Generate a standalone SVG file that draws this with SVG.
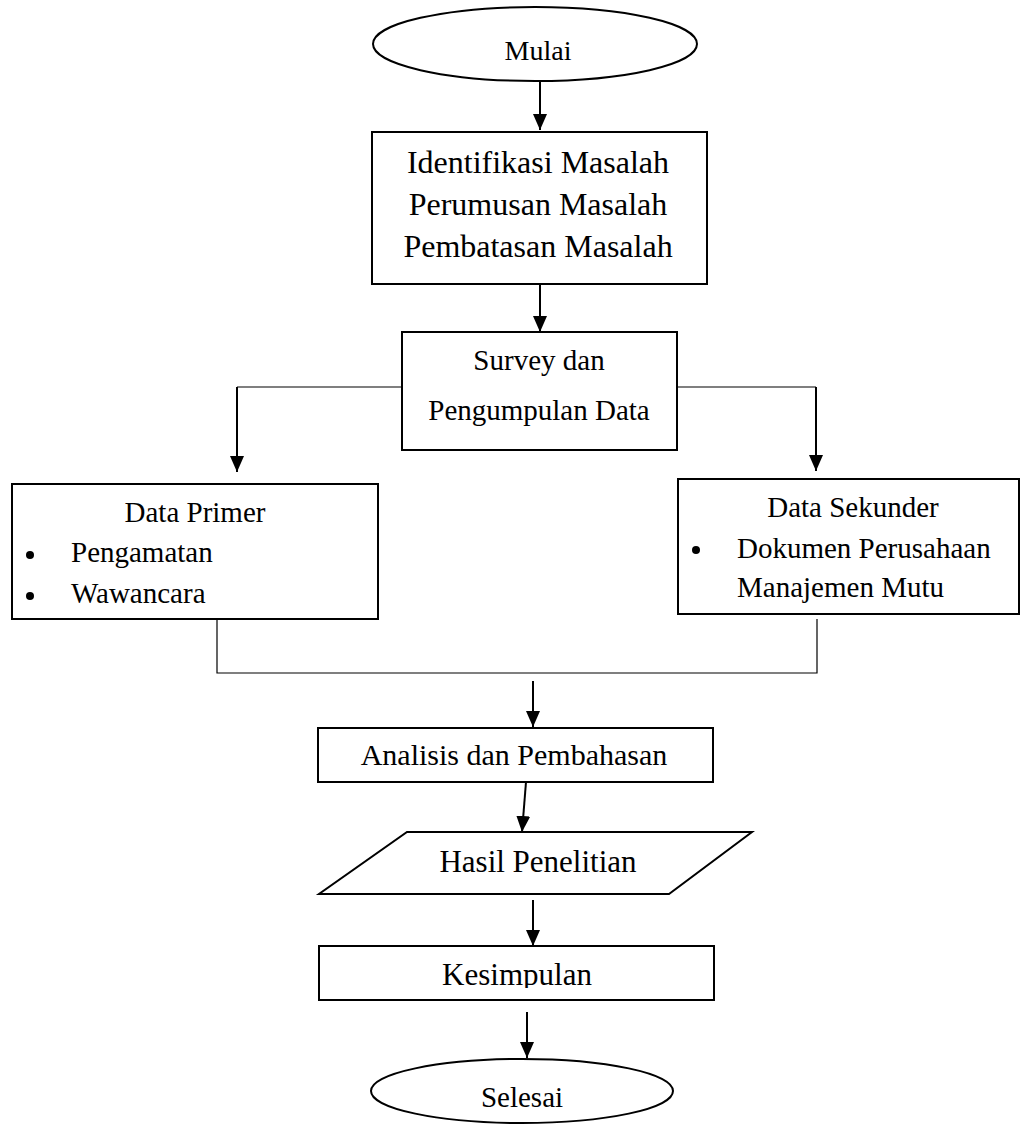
<svg xmlns="http://www.w3.org/2000/svg" width="1021" height="1126" viewBox="0 0 1021 1126">
<style>
.n{fill:#fff;stroke:#000;stroke-width:2}
.t{font-family:"Liberation Serif","Times New Roman",serif;fill:#000}
.c{stroke:#000;stroke-width:2;fill:none}
.thin{stroke:#000;stroke-width:1.2;fill:none}
</style>
<defs>
<marker id="ah" viewBox="0 0 10 10" refX="10" refY="5" markerWidth="7" markerHeight="7" markerUnits="userSpaceOnUse" orient="auto">
<path d="M0,0 L10,5 L0,10 Z" fill="#000"/>
</marker>
<marker id="a" viewBox="0 0 16 14" refX="16" refY="7" markerWidth="16" markerHeight="14" markerUnits="userSpaceOnUse" orient="auto">
<path d="M0,0 L16,7 L0,14 Z" fill="#000"/>
</marker>
<clipPath id="kclip"><rect x="319" y="946" width="395" height="42"/></clipPath>
</defs>
<rect width="1021" height="1126" fill="#fff"/>
<g id="connectors">
<line class="c" x1="540" y1="82" x2="540" y2="130" marker-end="url(#a)"/>
<line class="c" x1="540" y1="285" x2="540" y2="332" marker-end="url(#a)"/>
<polyline class="thin" points="402,387 237,387"/>
<line class="c" x1="237" y1="387" x2="237" y2="472" marker-end="url(#a)"/>
<polyline class="thin" points="677,387 816,387"/>
<line class="c" x1="816" y1="387" x2="816" y2="471" marker-end="url(#a)"/>
<polyline class="thin" points="217,620 217,673 817,673 817,619"/>
<line class="c" x1="533" y1="681" x2="533" y2="727" marker-end="url(#a)"/>
<line class="c" x1="526" y1="782" x2="522" y2="832" marker-end="url(#a)"/>
<line class="c" x1="533" y1="900" x2="533" y2="946" marker-end="url(#a)"/>
<line class="c" x1="527" y1="1012" x2="527" y2="1058" marker-end="url(#a)"/>
</g>
<g id="mulai">
<ellipse class="n" cx="535" cy="44" rx="162" ry="37"/>
<text class="t" x="538" y="60" font-size="28" text-anchor="middle">Mulai</text>
</g>
<g id="identifikasi">
<rect class="n" x="372" y="132" width="335" height="152"/>
<text class="t" x="538" y="173" font-size="32" text-anchor="middle">Identifikasi Masalah</text>
<text class="t" x="538" y="215" font-size="32" text-anchor="middle">Perumusan Masalah</text>
<text class="t" x="538" y="257" font-size="32" text-anchor="middle">Pembatasan Masalah</text>
</g>
<g id="survey">
<rect class="n" x="402" y="332" width="275" height="118"/>
<text class="t" x="539" y="370" font-size="29" text-anchor="middle">Survey dan</text>
<text class="t" x="539" y="420" font-size="29" text-anchor="middle">Pengumpulan Data</text>
</g>
<g id="data-primer">
<rect class="n" x="12" y="484" width="366" height="135"/>
<text class="t" x="195" y="522" font-size="29" text-anchor="middle">Data Primer</text>
<circle cx="30" cy="555" r="4"/>
<text class="t" x="71" y="562" font-size="29">Pengamatan</text>
<circle cx="30" cy="596" r="4"/>
<text class="t" x="71" y="603" font-size="29">Wawancara</text>
</g>
<g id="data-sekunder">
<rect class="n" x="678" y="479" width="341" height="135"/>
<text class="t" x="853" y="517" font-size="29" text-anchor="middle">Data Sekunder</text>
<circle cx="696" cy="550" r="4"/>
<text class="t" x="737" y="558" font-size="29">Dokumen Perusahaan</text>
<text class="t" x="737" y="597" font-size="29">Manajemen Mutu</text>
</g>
<g id="analisis">
<rect class="n" x="318" y="728" width="395" height="54"/>
<text class="t" x="514" y="765" font-size="30" text-anchor="middle">Analisis dan Pembahasan</text>
</g>
<g id="hasil">
<polygon class="n" points="407,832 752,832 669,894 319,894"/>
<text class="t" x="538" y="872" font-size="31" text-anchor="middle">Hasil Penelitian</text>
</g>
<g id="kesimpulan">
<rect class="n" x="319" y="946" width="395" height="54"/>
<text class="t" x="517" y="985" font-size="31" text-anchor="middle" clip-path="url(#kclip)">Kesimpulan</text>
</g>
<g id="selesai">
<ellipse class="n" cx="522" cy="1091" rx="151" ry="32"/>
<text class="t" x="522" y="1107" font-size="29" text-anchor="middle">Selesai</text>
</g>
</svg>
